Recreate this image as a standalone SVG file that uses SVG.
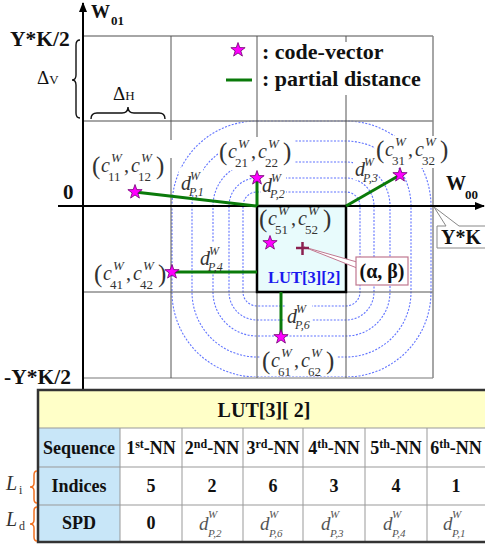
<svg xmlns="http://www.w3.org/2000/svg" xmlns:xlink="http://www.w3.org/1999/xlink" width="485" height="544" viewBox="0 0 485 544" font-family="'Liberation Serif', 'Times New Roman', 'DejaVu Serif', serif">
<style>
text{font-family:'Liberation Serif','Times New Roman','DejaVu Serif',serif}
.b{font-weight:bold;fill:#111}
.r{fill:#111}
.m{fill:#333;font-size:20px}
.p{font-size:25px}
.i{font-style:italic}
.s{font-size:13px}
.ss{font-size:12px}
.grid{stroke:#555;stroke-width:1;fill:none}
.gridl{stroke:#888;stroke-width:1.5;fill:none}
.cont{fill:none;stroke:#2c46ff;stroke-width:1.1;stroke-dasharray:2 1.5}
.pd{stroke:#0a7a0a;stroke-width:3;fill:none}
.bg{fill:#fff}
.tb{fill:none;stroke:#999;stroke-width:1}
.td{fill:#555;font-style:italic}
.brace{fill:none;stroke:#111;stroke-width:1.4}
.obrace{fill:none;stroke:#f07020;stroke-width:1.5}
</style>
<defs>
<polygon id="star" points="0,-7.5 1.76,-2.43 7.13,-2.32 2.85,0.93 4.41,6.07 0,3 -4.41,6.07 -2.85,0.93 -7.13,-2.32 -1.76,-2.43" fill="#ff00ff" stroke="#700070" stroke-width="0.8"/>
<marker id="ah" markerWidth="10" markerHeight="8" refX="9" refY="4" orient="auto" markerUnits="userSpaceOnUse"><path d="M0,0 L10,4 L0,8 Z" fill="#000"/></marker>
</defs>
<rect width="485" height="544" fill="#fff"/>

<g id="contours" opacity="0.75">
<rect class="cont" x="243" y="192" width="117" height="114" rx="14"/>
<rect class="cont" x="229" y="178" width="145" height="142" rx="28"/>
<rect class="cont" x="213" y="162" width="177" height="174" rx="44"/>
<rect class="cont" x="192" y="141" width="219" height="216" rx="65"/>
<rect class="cont" x="172" y="121" width="259" height="256" rx="85"/>
</g>

<g id="grid">
<line class="gridl" x1="83" y1="36" x2="433" y2="36"/>
<line class="gridl" x1="83" y1="121" x2="433" y2="121"/>
<line class="grid" x1="83" y1="292" x2="433" y2="292"/>
<line x1="83" y1="378" x2="433" y2="378" stroke="#bbb" stroke-width="2"/>
<line class="grid" x1="171" y1="36" x2="171" y2="140"/>
<line class="grid" x1="171" y1="158" x2="171" y2="378"/>
<line class="grid" x1="257" y1="36" x2="257" y2="140"/>
<line class="grid" x1="257" y1="292" x2="257" y2="378"/>
<line class="grid" x1="346" y1="36" x2="346" y2="206"/>
<line class="grid" x1="346" y1="292" x2="346" y2="378"/>
<line class="gridl" x1="433" y1="36" x2="433" y2="378"/>
</g>

<g id="label-bg">
<rect class="bg" x="258" y="42" width="172" height="53"/>
<rect class="bg" x="91" y="150" width="76" height="34"/>
<rect class="bg" x="218" y="137" width="76" height="33"/>
<rect class="bg" x="375" y="136" width="75" height="32"/>
<rect class="bg" x="92" y="258" width="76" height="32"/>
<rect class="bg" x="260" y="346" width="77" height="29"/>
<rect class="bg" x="179" y="168" width="24" height="26"/>
<rect class="bg" x="261" y="170" width="25" height="28"/>
<rect class="bg" x="353" y="152" width="24" height="28"/>
<rect class="bg" x="198" y="243" width="25" height="27"/>
<rect class="bg" x="285" y="300" width="27" height="29"/>
</g>

<g id="lut-cell">
<rect x="257" y="206" width="89" height="86" fill="#e8fbfc" stroke="#000" stroke-width="2.5"/>
<text class="b" x="268" y="283" font-size="16.5" style="fill:#1a1aee">LUT[3][2]</text>
</g>

<g id="axes">
<line x1="83" y1="390" x2="83" y2="3" stroke="#000" stroke-width="2" marker-end="url(#ah)"/>
<line x1="58" y1="206" x2="484" y2="206" stroke="#000" stroke-width="2" marker-end="url(#ah)"/>
<text class="b" x="91" y="18" font-size="19">W</text>
<text class="b" x="111" y="25" font-size="13">01</text>
<text class="b" x="446" y="190" font-size="20">W</text>
<text class="b" x="465" y="199" font-size="13">00</text>
<text class="b" x="10" y="46" font-size="21.5">Y*K/2</text>
<text class="b" x="63" y="199" font-size="21">0</text>
<text class="b" x="4" y="384" font-size="21.5">-Y*K/2</text>
<text class="r" x="37" y="84" font-size="19">Δ<tspan font-size="13">V</tspan></text>
<text class="r" x="113" y="100" font-size="19">Δ<tspan font-size="13">H</tspan></text>
<path class="brace" d="M80,40 Q76,40 76,45 L76,75 Q76,80 72,80 Q76,80 76,85 L76,113 Q76,118 80,118"/>
<path class="brace" d="M91,119 Q91,113 97,113 L122,113 Q128,113 128,107 Q128,113 134,113 L159,113 Q165,113 165,119"/>
<path d="M434,207 L446,226 L437,226 L437,248 L490,248 L490,226 L459,226 Z" fill="#fff" stroke="#888" stroke-width="1"/>
<text class="b" x="441" y="244" font-size="20">Y*K</text>
</g>

<g id="legend">
<use xlink:href="#star" href="#star" x="238" y="50"/>
<text class="b" x="262" y="59" font-size="22">: code-vector</text>
<line class="pd" x1="226" y1="80" x2="252" y2="80" stroke-width="3.5"/>
<text class="b" x="262" y="86" font-size="22">: partial distance</text>
</g>

<g id="connectors">
<line class="pd" x1="135" y1="192" x2="257" y2="206"/>
<line class="pd" x1="257" y1="178" x2="257" y2="206"/>
<line class="pd" x1="400" y1="175" x2="346" y2="206"/>
<line class="pd" x1="172" y1="272" x2="257" y2="272"/>
<line class="pd" x1="281" y1="292" x2="281" y2="337"/>
<polygon points="304,247 357,262 357,268" fill="#fff" stroke="#c07890" stroke-width="1"/>
</g>

<g id="dist-labels">
<text class="m i" x="181" y="190" font-size="20">d</text><text class="m i ss" x="190" y="180">W</text><text class="m i ss" x="189" y="196">P,1</text>
<text class="m i" x="262" y="192" font-size="20">d</text><text class="m i ss" x="271" y="182">W</text><text class="m i ss" x="270" y="198">P,2</text>
<text class="m i" x="355" y="176" font-size="20">d</text><text class="m i ss" x="364" y="166">W</text><text class="m i ss" x="363" y="182">P,3</text>
<text class="m i" x="200" y="265" font-size="20">d</text><text class="m i ss" x="209" y="255">W</text><text class="m i ss" x="208" y="271">P,4</text>
<text class="m i" x="287" y="323" font-size="20">d</text><text class="m i ss" x="296" y="313">W</text><text class="m i ss" x="295" y="329">P,6</text>
</g>

<g id="c1">
<text class="m"><tspan class="p" x="92" y="174">(</tspan><tspan class="i" x="101" y="172">c</tspan><tspan class="i s" x="111" y="162">W</tspan><tspan class="s" x="108" y="181">11</tspan><tspan x="124" y="172">,</tspan><tspan class="i" x="131" y="172">c</tspan><tspan class="i s" x="141" y="162">W</tspan><tspan class="s" x="138" y="181">12</tspan><tspan class="p" x="156" y="174">)</tspan></text>
<use xlink:href="#star" href="#star" x="135" y="192"/>
</g>
<g id="c2">
<text class="m"><tspan class="p" x="219" y="160">(</tspan><tspan class="i" x="228" y="158">c</tspan><tspan class="i s" x="238" y="148">W</tspan><tspan class="s" x="235" y="167">21</tspan><tspan x="251" y="158">,</tspan><tspan class="i" x="258" y="158">c</tspan><tspan class="i s" x="268" y="148">W</tspan><tspan class="s" x="265" y="167">22</tspan><tspan class="p" x="283" y="160">)</tspan></text>
<use xlink:href="#star" href="#star" x="257" y="178"/>
</g>
<g id="c3">
<text class="m"><tspan class="p" x="376" y="158">(</tspan><tspan class="i" x="385" y="156">c</tspan><tspan class="i s" x="395" y="146">W</tspan><tspan class="s" x="392" y="165">31</tspan><tspan x="408" y="156">,</tspan><tspan class="i" x="415" y="156">c</tspan><tspan class="i s" x="425" y="146">W</tspan><tspan class="s" x="422" y="165">32</tspan><tspan class="p" x="440" y="158">)</tspan></text>
<use xlink:href="#star" href="#star" x="400" y="175"/>
</g>
<g id="c4">
<text class="m"><tspan class="p" x="94" y="282">(</tspan><tspan class="i" x="103" y="280">c</tspan><tspan class="i s" x="113" y="270">W</tspan><tspan class="s" x="110" y="289">41</tspan><tspan x="126" y="280">,</tspan><tspan class="i" x="133" y="280">c</tspan><tspan class="i s" x="143" y="270">W</tspan><tspan class="s" x="140" y="289">42</tspan><tspan class="p" x="158" y="282">)</tspan></text>
<use xlink:href="#star" href="#star" x="172" y="272"/>
</g>
<g id="c5">
<text class="m"><tspan class="p" x="259" y="227">(</tspan><tspan class="i" x="268" y="225">c</tspan><tspan class="i s" x="278" y="215">W</tspan><tspan class="s" x="275" y="234">51</tspan><tspan x="291" y="225">,</tspan><tspan class="i" x="298" y="225">c</tspan><tspan class="i s" x="308" y="215">W</tspan><tspan class="s" x="305" y="234">52</tspan><tspan class="p" x="323" y="227">)</tspan></text>
<use xlink:href="#star" href="#star" x="270" y="243"/>
</g>
<g id="c6">
<text class="m"><tspan class="p" x="262" y="369">(</tspan><tspan class="i" x="271" y="367">c</tspan><tspan class="i s" x="281" y="357">W</tspan><tspan class="s" x="278" y="376">61</tspan><tspan x="294" y="367">,</tspan><tspan class="i" x="301" y="367">c</tspan><tspan class="i s" x="311" y="357">W</tspan><tspan class="s" x="308" y="376">62</tspan><tspan class="p" x="326" y="369">)</tspan></text>
<use xlink:href="#star" href="#star" x="281" y="337"/>
</g>

<g id="query">
<line x1="296" y1="248" x2="309" y2="248" stroke="#8b2050" stroke-width="2.5"/>
<line x1="302.5" y1="242" x2="302.5" y2="255" stroke="#8b2050" stroke-width="2.5"/>
<rect x="356" y="257" width="52" height="28" fill="#fff" stroke="#c07890" stroke-width="1.2"/>
<text class="b" x="382" y="278" font-size="20" text-anchor="middle">(α, β)</text>
</g>

<g id="table">
<rect x="38" y="390" width="447" height="38" fill="#ffffc8"/>
<rect x="38" y="428" width="82" height="114" fill="#c8e6f8"/>
<line class="tb" x1="38" y1="428" x2="485" y2="428"/>
<line class="tb" x1="38" y1="467" x2="485" y2="467"/>
<line class="tb" x1="38" y1="505" x2="485" y2="505"/>
<line class="tb" x1="120" y1="428" x2="120" y2="542"/>
<line class="tb" x1="182" y1="428" x2="182" y2="542"/>
<line class="tb" x1="243" y1="428" x2="243" y2="542"/>
<line class="tb" x1="303" y1="428" x2="303" y2="542"/>
<line class="tb" x1="365" y1="428" x2="365" y2="542"/>
<line class="tb" x1="427" y1="428" x2="427" y2="542"/>
<rect x="38" y="390" width="450" height="152" fill="none" stroke="#333" stroke-width="2.5"/>
<text class="b" x="264" y="417" font-size="20" text-anchor="middle">LUT[3][ 2]</text>
<text class="b" x="79" y="454" font-size="18" text-anchor="middle">Sequence</text>
<text class="b" x="151" y="454" font-size="18" text-anchor="middle">1<tspan font-size="12" dy="-6">st</tspan><tspan dy="6">-NN</tspan></text>
<text class="b" x="212" y="454" font-size="18" text-anchor="middle">2<tspan font-size="12" dy="-6">nd</tspan><tspan dy="6">-NN</tspan></text>
<text class="b" x="273" y="454" font-size="18" text-anchor="middle">3<tspan font-size="12" dy="-6">rd</tspan><tspan dy="6">-NN</tspan></text>
<text class="b" x="334" y="454" font-size="18" text-anchor="middle">4<tspan font-size="12" dy="-6">th</tspan><tspan dy="6">-NN</tspan></text>
<text class="b" x="396" y="454" font-size="18" text-anchor="middle">5<tspan font-size="12" dy="-6">th</tspan><tspan dy="6">-NN</tspan></text>
<text class="b" x="456" y="454" font-size="18" text-anchor="middle">6<tspan font-size="12" dy="-6">th</tspan><tspan dy="6">-NN</tspan></text>
<text class="b" x="79" y="492" font-size="18" text-anchor="middle">Indices</text>
<text class="b" x="151" y="492" font-size="18" text-anchor="middle">5</text>
<text class="b" x="212" y="492" font-size="18" text-anchor="middle">2</text>
<text class="b" x="273" y="492" font-size="18" text-anchor="middle">6</text>
<text class="b" x="334" y="492" font-size="18" text-anchor="middle">3</text>
<text class="b" x="396" y="492" font-size="18" text-anchor="middle">4</text>
<text class="b" x="456" y="492" font-size="18" text-anchor="middle">1</text>
<text class="b" x="79" y="529" font-size="18" text-anchor="middle">SPD</text>
<text class="b" x="151" y="529" font-size="18" text-anchor="middle">0</text>
<text class="td" x="199" y="530" font-size="19">d</text><text class="td" x="208" y="518" font-size="11">W</text><text class="td" x="208" y="537" font-size="11">P,2</text>
<text class="td" x="260" y="530" font-size="19">d</text><text class="td" x="269" y="518" font-size="11">W</text><text class="td" x="269" y="537" font-size="11">P,6</text>
<text class="td" x="321" y="530" font-size="19">d</text><text class="td" x="330" y="518" font-size="11">W</text><text class="td" x="330" y="537" font-size="11">P,3</text>
<text class="td" x="383" y="530" font-size="19">d</text><text class="td" x="392" y="518" font-size="11">W</text><text class="td" x="392" y="537" font-size="11">P,4</text>
<text class="td" x="443" y="530" font-size="19">d</text><text class="td" x="452" y="518" font-size="11">W</text><text class="td" x="452" y="537" font-size="11">P,1</text>
</g>

<g id="row-labels">
<text class="r i" x="6" y="490" font-size="20" style="fill:#333">L</text><text class="r" x="19" y="494" font-size="12" style="fill:#333">i</text>
<text class="r i" x="6" y="526" font-size="20" style="fill:#333">L</text><text class="r" x="19" y="530" font-size="12" style="fill:#333">d</text>
<path class="obrace" d="M37,471 Q34,471 34,475 L34,483 Q34,487 30,487 Q34,487 34,491 L34,499 Q34,503 37,503"/>
<path class="obrace" d="M37,507 Q34,507 34,511 L34,520 Q34,524 30,524 Q34,524 34,528 L34,537 Q34,541 37,541"/>
</g>
</svg>
